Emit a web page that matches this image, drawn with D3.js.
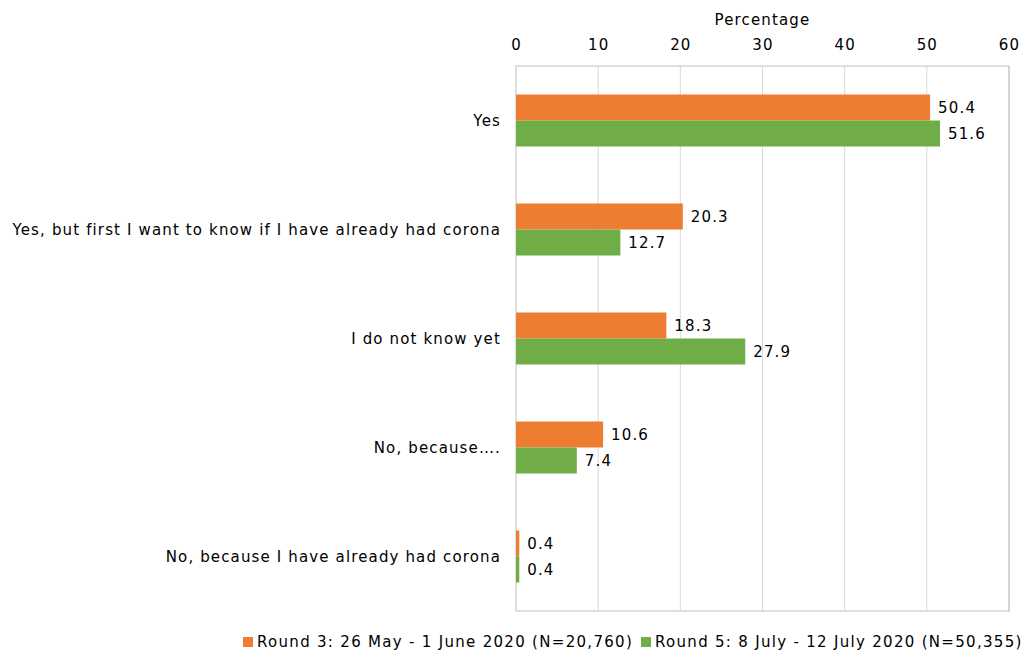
<!DOCTYPE html>
<html>
<head>
<meta charset="utf-8">
<script src="https://cdn.jsdelivr.net/npm/d3@7"></script>
<style>
  body { margin: 0; background: #fff; }
  text { font-family: "DejaVu Sans", Verdana, sans-serif; fill: #000; }
</style>
</head>
<body>
<script>
let categories = [
  'Yes',
  'Yes, but first I want to know if I have already had corona',
  'I do not know yet',
  'No, because….',
  'No, because I have already had corona'
]
let round3 = [50.4, 20.3, 18.3, 10.6, 0.4]
let round5 = [51.6, 12.7, 27.9, 7.4, 0.4]
let seriesNames = [
  'Round 3: 26 May - 1 June 2020 (N=20,760)',
  'Round 5: 8 July - 12 July 2020 (N=50,355)'
]
let colors = ['#ED7D31', '#70AD47']
let xTicks = [0, 10, 20, 30, 40, 50, 60]

let width = 1029
let height = 651
let plotLeft = 516, plotRight = 1009, plotTop = 66, plotBottom = 611
let spacing = '1.14px'

let svg = d3.select('body').append('svg')
  .attr('width', width)
  .attr('height', height)

//scales
let xScale = d3.scaleLinear().domain([0, 60]).range([plotLeft, plotRight])
let yScale = d3.scaleBand().domain(categories).range([plotTop, plotBottom])
let barH = 26

// gridlines
svg.append('g')
  .selectAll('line')
  .data(xTicks.slice(1))
  .enter()
  .append('line')
  .attr('x1', d => xScale(d))
  .attr('x2', d => xScale(d))
  .attr('y1', plotTop)
  .attr('y2', plotBottom)
  .attr('stroke', '#d9d9d9')

// box
svg.append('rect')
  .attr('x', plotLeft).attr('y', plotTop)
  .attr('width', plotRight - plotLeft).attr('height', plotBottom - plotTop)
  .attr('fill', 'none')
  .attr('stroke', '#bfbfbf')

// top axis labels
svg.append('g')
  .selectAll('text')
  .data(xTicks)
  .enter()
  .append('text')
  .attr('x', d => xScale(d) + 0.5)
  .attr('y', 50)
  .attr('text-anchor', 'middle')
  .attr('font-size', 15)
  .style('letter-spacing', spacing)
  .text(d => d)

svg.append('text')
  .attr('x', xScale(30))
  .attr('y', 25)
  .attr('text-anchor', 'middle')
  .attr('font-size', 15)
  .style('letter-spacing', spacing)
  .text('Percentage')

// category labels
svg.append('g')
  .selectAll('text')
  .data(categories)
  .enter()
  .append('text')
  .attr('x', plotLeft - 15)
  .attr('y', d => yScale(d) + yScale.bandwidth() / 2)
  .attr('dy', '0.35em')
  .attr('text-anchor', 'end')
  .attr('font-size', 15)
  .style('letter-spacing', spacing)
  .text(d => d)

// bars
let series = [round3, round5]
series.forEach((vals, si) => {
  let g = svg.append('g')
  g.selectAll('rect')
    .data(vals)
    .enter()
    .append('rect')
    .attr('x', xScale(0))
    .attr('y', (d, i) => yScale(categories[i]) + yScale.bandwidth() / 2 - barH + si * barH)
    .attr('width', d => xScale(d) - xScale(0))
    .attr('height', barH)
    .attr('fill', colors[si])
  g.selectAll('text')
    .data(vals)
    .enter()
    .append('text')
    .attr('x', d => xScale(d) + 8)
    .attr('y', (d, i) => yScale(categories[i]) + yScale.bandwidth() / 2 - barH / 2 + si * barH)
    .attr('dy', '0.35em')
    .attr('font-size', 15)
    .style('letter-spacing', spacing)
    .text(d => d.toFixed(1))
})

// legend
let lx = [243, 641]
seriesNames.forEach((name, i) => {
  svg.append('rect')
    .attr('x', lx[i]).attr('y', 637)
    .attr('width', 10).attr('height', 10)
    .attr('fill', colors[i])
  svg.append('text')
    .attr('x', lx[i] + 14)
    .attr('y', 642)
    .attr('dy', '0.35em')
    .attr('font-size', 15)
    .style('letter-spacing', '1.3px')
    .text(name)
})
</script>
</body>
</html>
